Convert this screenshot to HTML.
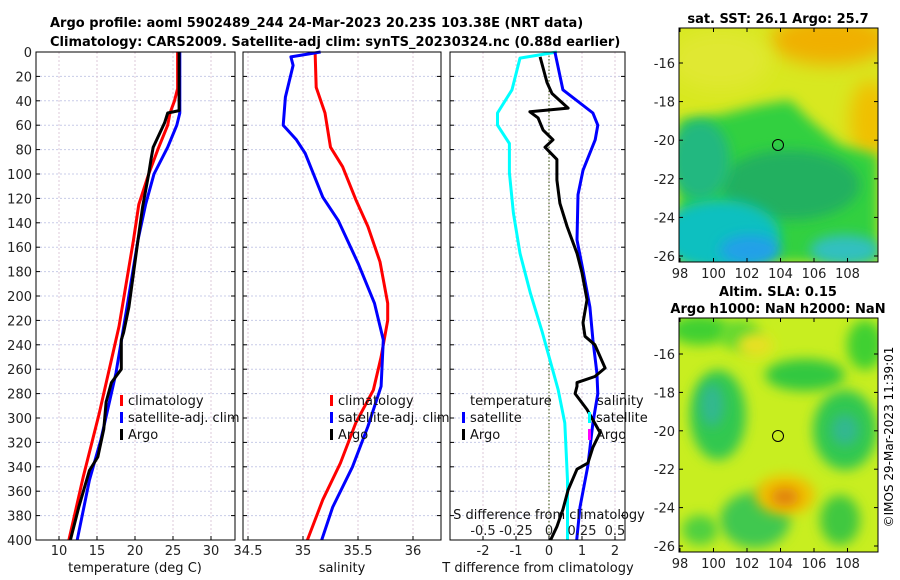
<!DOCTYPE html>
<html><head><meta charset="utf-8">
<style>
body{margin:0;background:#fff;}
svg{display:block;font-family:"DejaVu Sans","Liberation Sans",sans-serif;}
</style></head>
<body>
<svg id="c" width="900" height="580" viewBox="0 0 900 580" xmlns="http://www.w3.org/2000/svg">
<defs>
<filter id="bl" x="-50%" y="-50%" width="200%" height="200%"><feGaussianBlur stdDeviation="9"/></filter>
<filter id="bl2" x="-50%" y="-50%" width="200%" height="200%"><feGaussianBlur stdDeviation="6"/></filter>
<clipPath id="cm1"><rect x="679" y="28" width="199" height="234"/></clipPath>
<clipPath id="cm2"><rect x="679" y="318" width="199" height="234"/></clipPath>
</defs>
<g font-weight="bold" font-size="13" fill="#000">
<text x="50" y="27">Argo profile: aoml 5902489_244 24-Mar-2023 20.23S 103.38E (NRT data)</text>
<text x="50" y="46">Climatology: CARS2009. Satellite-adj clim: synTS_20230324.nc (0.88d earlier)</text>
</g>
<g id="maps">
<g clip-path="url(#cm1)">
<rect x="679" y="28" width="199" height="234" fill="#d8e820"/>
<ellipse cx="830" cy="40" rx="60" ry="25" fill="#f0b000" filter="url(#bl)"/>
<ellipse cx="870" cy="120" rx="20" ry="40" fill="#f0c000" filter="url(#bl)"/>
<ellipse cx="720" cy="60" rx="50" ry="30" fill="#e0e830" filter="url(#bl)"/>
<path d="M679 120 L720 115 L760 105 L790 100 L810 120 L840 145 L878 155 L878 262 L679 262Z" fill="#30d040" filter="url(#bl2)"/>
<ellipse cx="790" cy="185" rx="70" ry="35" fill="#20b060" filter="url(#bl2)"/>
<ellipse cx="700" cy="160" rx="30" ry="40" fill="#20b880" filter="url(#bl2)"/>
<ellipse cx="720" cy="235" rx="60" ry="35" fill="#10c0c0" filter="url(#bl2)"/>
<ellipse cx="750" cy="250" rx="30" ry="15" fill="#20a0e8" filter="url(#bl2)"/>
<ellipse cx="845" cy="250" rx="35" ry="15" fill="#30c0c0" filter="url(#bl2)"/>
</g>
<rect x="679" y="28" width="199" height="234" fill="none" stroke="#000"/>
<circle cx="778" cy="145" r="5.5" fill="none" stroke="#000"/>
<g clip-path="url(#cm2)">
<rect x="679" y="318" width="199" height="234" fill="#c8ee20"/>
<ellipse cx="700" cy="330" rx="30" ry="15" fill="#40d030" filter="url(#bl2)"/>
<ellipse cx="865" cy="345" rx="18" ry="25" fill="#40d030" filter="url(#bl2)"/>
<ellipse cx="740" cy="335" rx="20" ry="15" fill="#60d830" filter="url(#bl2)"/>
<ellipse cx="718" cy="415" rx="28" ry="45" fill="#30c850" filter="url(#bl2)"/>
<ellipse cx="712" cy="405" rx="12" ry="22" fill="#30b890" filter="url(#bl2)"/>
<ellipse cx="805" cy="375" rx="40" ry="16" fill="#30c840" filter="url(#bl2)"/>
<ellipse cx="845" cy="430" rx="32" ry="40" fill="#30c850" filter="url(#bl2)"/>
<ellipse cx="845" cy="430" rx="14" ry="16" fill="#30b890" filter="url(#bl2)"/>
<ellipse cx="755" cy="520" rx="35" ry="28" fill="#40c850" filter="url(#bl2)"/>
<ellipse cx="700" cy="530" rx="18" ry="15" fill="#50d040" filter="url(#bl2)"/>
<ellipse cx="785" cy="495" rx="30" ry="20" fill="#f0c000" filter="url(#bl2)"/>
<ellipse cx="785" cy="497" rx="14" ry="9" fill="#e08010" filter="url(#bl2)"/>
<ellipse cx="840" cy="520" rx="20" ry="25" fill="#40c840" filter="url(#bl2)"/>
<ellipse cx="755" cy="345" rx="18" ry="12" fill="#e8e020" filter="url(#bl2)"/>
</g>
<rect x="679" y="318" width="199" height="234" fill="none" stroke="#000"/>
<circle cx="778" cy="436" r="5.5" fill="none" stroke="#000"/>
<g font-weight="bold" font-size="13" text-anchor="middle">
<text x="778" y="23">sat. SST: 26.1 Argo: 25.7</text>
<text x="778" y="296">Altim. SLA: 0.15</text>
<text x="778" y="313">Argo h1000: NaN h2000: NaN</text>
</g>
<text transform="translate(893,437) rotate(-90)" font-size="12" text-anchor="middle">©IMOS 29-Mar-2023 11:39:01</text>
</g>
</svg>
<script>
// ---- data ----
const depthTicks=[0,20,40,60,80,100,120,140,160,180,200,220,240,260,280,300,320,340,360,380,400];
const tTicks=[10,15,20,25,30];
const sTicks=[34.5,35,35.5,36];
const dTTicks=[-2,-1,0,1,2];
const dSTicks=[-0.5,-0.25,0,0.25,0.5];
const dSTickLabels=["-0.5","-0.25","0","0.25","0.5"];
const lonTicks=[98,100,102,104,106,108];
const latTicks=[-16,-18,-20,-22,-24,-26];

const tClimD=[0,30,40,50,60,80,100,125,154,225,296,348,400];
const tClimV=[25.6,25.6,25.2,24.6,24.3,23.0,21.8,20.5,19.8,17.9,15.3,13.2,11.3];
const tSatD=[0,50,60,78,100,125,154,203,263,318,351,400];
const tSatV=[25.9,25.9,25.5,24.3,22.5,21.4,20.4,19.1,17.5,15.5,14.0,12.4];
const tArgoD=[0,48,50,58,78,88,100,127,154,209,230,236,260,271,287,309,332,343,373,400];
const tArgoV=[25.8,25.8,24.3,23.9,22.4,22.1,21.8,21.0,20.4,19.2,18.5,18.2,18.2,16.9,16.2,15.9,15.1,14.0,12.6,11.5];

const sClimD=[0,29,50,78,94,121,143,172,206,220,250,277,304,337,367,400];
const sClimV=[35.11,35.12,35.2,35.25,35.36,35.48,35.59,35.7,35.77,35.77,35.71,35.64,35.48,35.34,35.18,35.04];
const sSatD=[0,4,11,37,60,72,83,119,138,173,206,236,274,307,340,373,400];
const sSatV=[35.16,34.89,34.91,34.84,34.82,34.94,35.02,35.18,35.32,35.5,35.65,35.73,35.71,35.59,35.45,35.27,35.17];

const dTSatD=[0,31,50,60,72,97,117,154,179,209,236,263,280,304,339,373,400];
const dTSatV=[0.18,0.42,1.33,1.48,1.4,1.03,0.88,0.85,1.03,1.24,1.33,1.45,1.48,1.33,1.18,0.94,0.84];
const dTArgoD=[4,25,34,46,49,54,64,72,78,88,105,124,143,165,181,203,222,233,240,259,266,271,274,280,293,312,324,337,342,359,375,389,400];
const dTArgoV=[-0.27,-0.06,0.09,0.58,-0.58,-0.33,-0.18,0.12,-0.12,0.24,0.24,0.33,0.55,0.85,1.0,1.15,1.03,1.09,1.39,1.7,1.39,0.85,0.85,0.79,1.15,1.55,1.33,1.18,0.85,0.58,0.42,0.24,0.05];
const dSSatD=[0,5,31,50,60,75,99,132,165,198,230,277,304,351,400];
const dSSatV=[0.06,-0.22,-0.28,-0.39,-0.39,-0.30,-0.30,-0.27,-0.22,-0.14,-0.05,0.07,0.12,0.14,0.14];

// ---- drawing ----
const svg=document.getElementById('c');
const NS='http://www.w3.org/2000/svg';
function mk(tag,attrs,parent){const e=document.createElementNS(NS,tag);for(const k in attrs)e.setAttribute(k,attrs[k]);(parent||svg).appendChild(e);return e;}
const Y0=52,Y1=540;
const yD=d=>Y0+(d/400)*(Y1-Y0);
const xT=t=>59+(t-10)*7.6;
const xS=s=>303+(s-35)*110;
const xDT=t=>549+t*33;
const xDS=s=>549+s*132;
const lonX=l=>680+(l-98)*16.75;
const latY1=l=>63+(-16-l)*19.3;
const latY2=l=>354+(-16-l)*19.2;

const panels=[{x0:36,x1:235,name:'temperature-panel'},{x0:243,x1:441,name:'salinity-panel'},{x0:450,x1:625,name:'difference-panel'}];

function grid(p,xs){
  depthTicks.forEach(d=>{const l=mk('line',{x1:p.x0,x2:p.x1,y1:yD(d),y2:yD(d),stroke:'#c8cce8','stroke-dasharray':'2,2','stroke-width':1});
  
  });
  xs.forEach(x=>{const l=mk('line',{x1:x,x2:x,y1:Y0,y2:Y1,stroke:'#dcc8d8','stroke-dasharray':'2,2','stroke-width':1});
  
  });
}
function frame(p){
  const r=mk('rect',{x:p.x0,y:Y0,width:p.x1-p.x0,height:Y1-Y0,fill:'none',stroke:'#000','stroke-width':1});
  
  
  depthTicks.forEach(d=>{mk('line',{x1:p.x0,x2:p.x0+4,y1:yD(d),y2:yD(d),stroke:'#000'});mk('line',{x1:p.x1-4,x2:p.x1,y1:yD(d),y2:yD(d),stroke:'#000'});});
}
function xTicks(p,vals,fx,labels,y,nm){
  vals.forEach((v,i)=>{const x=fx(v);
    mk('line',{x1:x,x2:x,y1:Y1-4,y2:Y1,stroke:'#000'});
    const t=mk('text',{x:x,y:y,'font-size':13,'text-anchor':'middle',fill:'#222'});t.textContent=labels?labels[i]:String(v);
    
    });
}
function line(D,V,fx,color,nm,w){
  const pts=D.map((d,i)=>fx(V[i]).toFixed(1)+','+yD(d).toFixed(1)).join(' ');
  const pl=mk('polyline',{points:pts,fill:'none',stroke:color,'stroke-width':w||3,'stroke-linejoin':'round'});
  
  
}
function txt(x,y,s,nm,opts){const t=mk('text',Object.assign({x:x,y:y,'font-size':13,fill:'#111'},opts||{}));t.textContent=s;
  
  return t;}
function legTick(x,y,color,nm){const r=mk('rect',{x:x,y:y-11,width:3,height:11,fill:color});
  
  }

// panel 1
grid(panels[0],tTicks.map(xT));
line(tClimD,tClimV,xT,'#ff0000','temperature-climatology-line');
line(tSatD,tSatV,xT,'#0000ff','temperature-satellite-line');
line(tArgoD,tArgoV,xT,'#000000','temperature-argo-line');
frame(panels[0]);
xTicks(panels[0],tTicks,xT,null,555,'temperature-tick-label');
depthTicks.forEach(d=>txt(32,yD(d)+5,String(d),'depth-tick-label',{'text-anchor':'end','fill':'#222'}));
txt(135,572,'temperature (deg C)','temperature-axis-title',{'text-anchor':'middle'});
legTick(120,406,'#ff0000','legend-climatology-marker');txt(128,405,'climatology','legend-climatology');
legTick(120,423,'#0000ff','legend-satellite-marker');txt(128,422,'satellite-adj. clim','legend-satellite');
legTick(120,440,'#000000','legend-argo-marker');txt(128,439,'Argo','legend-argo');

// panel 2
grid(panels[1],sTicks.map(xS));
line(sClimD,sClimV,xS,'#ff0000','salinity-climatology-line');
line(sSatD,sSatV,xS,'#0000ff','salinity-satellite-line');
frame(panels[1]);
xTicks(panels[1],sTicks,xS,null,555,'salinity-tick-label');
txt(342,572,'salinity','salinity-axis-title',{'text-anchor':'middle'});
legTick(330,406,'#ff0000','legend-climatology-marker');txt(338,405,'climatology','legend-climatology');
legTick(330,423,'#0000ff','legend-satellite-marker');txt(338,422,'satellite-adj. clim','legend-satellite');
legTick(330,440,'#000000','legend-argo-marker');txt(338,439,'Argo','legend-argo');

// panel 3
grid(panels[2],dTTicks.map(xDT));
const z=mk('line',{x1:xDT(0),x2:xDT(0),y1:Y0,y2:Y1,stroke:'#556b2f','stroke-dasharray':'1.5,2','stroke-width':1.2});


line(dSSatD,dSSatV,xDS,'#00ffff','salinity-diff-satellite-line');
line(dTSatD,dTSatV,xDT,'#0000ff','temperature-diff-satellite-line');
line(dTArgoD,dTArgoV,xDT,'#000000','temperature-diff-argo-line');
frame(panels[2]);
xTicks(panels[2],dTTicks,xDT,null,555,'t-diff-tick-label');
dSTicks.forEach((v,i)=>txt(xDS(v),535,dSTickLabels[i],'s-diff-tick-label',{'text-anchor':'middle','fill':'#222'}));
txt(549,519,'S difference from climatology','s-diff-axis-title',{'text-anchor':'middle'});
txt(538,572,'T difference from climatology','t-diff-axis-title',{'text-anchor':'middle'});
txt(470,405,'temperature','legend-temperature-heading');
legTick(462,423,'#0000ff','legend-t-satellite-marker');txt(470,422,'satellite','legend-t-satellite');
legTick(462,440,'#000000','legend-t-argo-marker');txt(470,439,'Argo','legend-t-argo');
txt(597,405,'salinity','legend-salinity-heading');
legTick(588,423,'#00ffff','legend-s-satellite-marker');txt(596,422,'satellite','legend-s-satellite');
legTick(588,440,'#ff00ff','legend-s-argo-marker');txt(596,439,'Argo','legend-s-argo');

// map axes
[[28,262,latY1,'sst'],[318,552,latY2,'sla']].forEach(([top,bot,fy,nm])=>{
  lonTicks.forEach(l=>{const x=lonX(l);mk('line',{x1:x,x2:x,y1:bot-4,y2:bot,stroke:'#000'});mk('line',{x1:x,x2:x,y1:top,y2:top+4,stroke:'#000'});
    txt(x,bot+16,String(l),nm+'-lon-tick-label',{'text-anchor':'middle','fill':'#222'});});
  latTicks.forEach(l=>{const y=fy(l);mk('line',{x1:679,x2:683,y1:y,y2:y,stroke:'#000'});mk('line',{x1:874,x2:878,y1:y,y2:y,stroke:'#000'});
    txt(675,y+5,String(l),nm+'-lat-tick-label',{'text-anchor':'end','fill':'#222'});});
});
</script>
</body></html>
